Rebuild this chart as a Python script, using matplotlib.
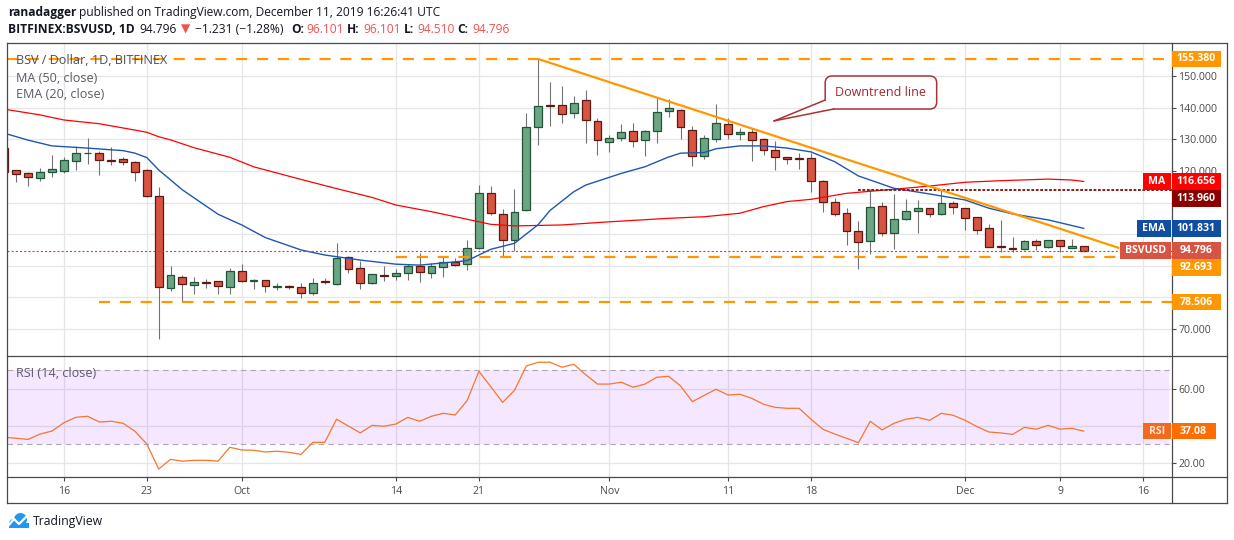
import matplotlib
matplotlib.use('Agg')
import matplotlib.pyplot as plt
from matplotlib.patches import Rectangle, FancyBboxPatch, Polygon, Circle
from matplotlib.lines import Line2D
from matplotlib.transforms import IdentityTransform
import pandas as pd

W, H = 1234, 540
plt.rcParams['font.family'] = ['Open Sans', 'DejaVu Sans']
plt.rcParams['lines.scale_dashes'] = False

# ---- data (daily candles, Sep 11 -> Dec 11 2019) ----
start_date = '2019-09-11'
opens = [127.1, 120.2, 119.2, 117.7, 119.5, 119.9, 123.0, 125.5, 125.6, 123.4,
         123.7, 122.7, 120.2, 112.0, 82.9, 86.3, 83.8, 84.9, 85.1, 83.2,
         88.2, 85.3, 85.4, 83.4, 83.6, 83.2, 81.3, 85.2, 84.1, 92.7,
         89.2, 84.5, 87.0, 86.7, 87.6, 89.8, 87.6, 89.6, 91.2, 90.5,
         95.5, 112.9, 106.3, 98.0, 107.5, 133.8, 140.7, 140.7, 138.2, 142.3,
         135.7, 129.0, 130.3, 132.5, 129.7, 132.5, 138.8, 139.2, 132.8, 124.6,
         130.0, 134.7, 131.6, 132.2, 130.0, 126.5, 124.3, 124.2, 124.0, 116.7,
         110.1, 106.6, 100.9, 97.7, 108.8, 100.3, 104.7, 107.2, 108.2, 106.3,
         109.7, 108.2, 105.3, 101.8, 96.1, 95.5, 95.2, 97.7, 95.8, 98.0,
         95.5, 96.101]
highs = [127.6, 120.4, 119.5, 120.9, 125.0, 124.3, 127.9, 130.4, 126.2, 127.5,
         124.3, 123.0, 120.5, 114.8, 89.9, 87.0, 86.3, 85.7, 85.3, 89.2,
         90.5, 85.8, 85.6, 84.5, 83.8, 84.5, 86.0, 86.0, 97.1, 93.0,
         91.4, 87.5, 89.8, 88.9, 90.5, 93.9, 90.8, 92.7, 92.4, 98.1,
         115.4, 115.1, 107.9, 114.2, 138.2, 155.38, 148.0, 146.7, 143.6, 145.5,
         136.6, 131.2, 134.7, 135.0, 132.8, 143.3, 142.6, 139.5, 134.1, 131.2,
         141.1, 136.6, 133.5, 133.5, 130.3, 129.4, 124.5, 125.6, 125.6, 117.0,
         111.3, 108.2, 104.1, 114.2, 110.1, 112.6, 111.0, 110.7, 108.4, 113.9,
         110.4, 108.4, 105.5, 103.1, 104.4, 99.0, 98.0, 98.4, 98.0, 98.0,
         98.4, 96.101]
lows = [119.3, 116.6, 115.3, 116.9, 118.2, 119.4, 120.3, 122.3, 118.8, 122.0,
        122.0, 116.9, 111.8, 66.9, 81.9, 78.6, 81.0, 82.9, 81.0, 81.0,
        84.8, 82.6, 81.6, 82.2, 82.6, 79.7, 80.7, 84.1, 83.8, 87.6,
        82.6, 84.3, 85.1, 85.4, 85.4, 84.8, 86.0, 86.3, 89.8, 88.6,
        95.3, 106.0, 93.0, 94.6, 107.2, 128.1, 134.1, 135.0, 136.6, 128.7,
        124.9, 125.9, 129.4, 127.5, 124.6, 128.7, 136.9, 130.0, 121.4, 123.7,
        129.0, 130.0, 129.7, 123.0, 124.9, 120.2, 122.1, 120.5, 113.2, 106.9,
        105.6, 96.5, 88.9, 93.6, 99.3, 95.2, 104.4, 100.3, 105.3, 106.1,
        106.3, 101.2, 99.9, 95.8, 94.3, 94.3, 94.9, 94.9, 95.5, 94.3,
        95.5, 94.51]
closes = [119.7, 118.9, 118.0, 119.5, 120.5, 123.3, 125.6, 125.7, 123.3, 123.2,
          122.7, 119.5, 112.0, 83.2, 87.0, 84.1, 84.8, 84.7, 83.5, 88.2,
          85.1, 85.5, 83.5, 83.6, 83.2, 81.3, 84.5, 84.9, 92.4, 88.9,
          84.5, 87.3, 86.7, 87.6, 89.8, 87.9, 89.9, 91.2, 90.1, 95.5,
          112.9, 106.6, 98.0, 106.9, 133.8, 140.4, 140.4, 137.9, 141.4, 136.0,
          129.7, 130.3, 132.2, 129.4, 132.5, 138.5, 139.8, 133.8, 124.6, 130.3,
          135.0, 131.6, 132.2, 129.7, 126.5, 124.3, 123.7, 123.8, 116.9, 110.1,
          106.3, 100.9, 97.4, 108.5, 100.3, 104.7, 107.2, 108.2, 106.3, 109.7,
          108.5, 105.0, 101.2, 96.0, 95.8, 95.2, 97.7, 96.5, 98.0, 96.1,
          96.1, 94.796]

ma_days = [0, 3, 5, 8, 11, 12, 13, 14, 16, 19, 21, 25, 28, 31, 33, 36, 39, 41,
           43, 47, 51, 56, 59, 62, 64, 66, 68, 71, 75, 78, 81, 84, 88, 90, 91]
ma_vals = [139.5, 137.7, 136.1, 134.9, 132.9, 132.2, 130.8, 129.8, 127.3, 124.3,
           121.3, 117.3, 114.4, 111.6, 109.2, 107.1, 104.7, 103.1, 102.6, 102.9,
           103.9, 105.0, 105.5, 106.6, 108.7, 110.3, 111.0, 112.9, 114.2, 115.2,
           116.4, 116.9, 117.4, 117.1, 116.656]
ema_days = [0, 2, 4, 7, 10, 11, 12, 13, 15, 18, 20, 22, 25, 27, 30, 33, 35, 39,
            41, 43, 45, 46, 48, 49, 52, 54, 56, 57, 59, 60, 62, 64, 66, 68, 70,
            72, 75, 78, 81, 83, 85, 88, 91]
ema_vals = [131.9, 129.7, 127.9, 127.2, 126.4, 125.6, 124.2, 120.3, 114.0, 106.3,
            102.9, 98.9, 95.0, 93.4, 91.8, 90.5, 90.2, 91.6, 95.2, 97.1, 103.0,
            107.5, 113.4, 115.5, 119.2, 121.3, 124.4, 125.6, 125.8, 127.0, 127.9,
            127.9, 127.2, 126.0, 122.9, 118.4, 114.5, 112.7, 110.8, 108.2, 106.4,
            104.5, 101.831]
rsi_vals = [33.7, 33.2, 32.6, 35.5, 37.1, 41.6, 44.5, 45.1, 42.0, 42.4,
            41.3, 37.0, 30.1, 16.6, 21.8, 20.8, 21.3, 21.3, 20.8, 28.3,
            26.9, 26.7, 25.8, 26.2, 25.6, 24.5, 31.0, 31.0, 43.5, 39.8,
            36.1, 40.2, 39.7, 40.9, 44.5, 42.4, 45.1, 46.7, 45.8, 53.5,
            69.4, 61.1, 52.6, 59.1, 72.3, 74.3, 74.3, 71.6, 73.2, 67.6,
            62.5, 62.5, 63.5, 60.8, 62.5, 66.2, 66.7, 61.5, 53.0, 56.4,
            59.7, 56.6, 57.0, 54.8, 51.6, 49.9, 49.4, 49.4, 43.5, 38.1,
            35.5, 33.2, 30.8, 42.4, 37.7, 41.3, 43.5, 44.5, 42.9, 46.7,
            45.6, 42.9, 39.5, 36.6, 36.1, 35.3, 39.1, 38.1, 40.2, 38.1,
            38.6, 37.08]

tick_dates = ['2019-09-16', '2019-09-23', '2019-10-01', '2019-10-14', '2019-10-21',
              '2019-11-01', '2019-11-11', '2019-11-18', '2019-12-01', '2019-12-09',
              '2019-12-16']
tick_labels = ['16', '23', 'Oct', '14', '21', 'Nov', '11', '18', 'Dec', '9', '16']
price_ticks = [70, 80, 90, 100, 110, 120, 130, 140, 150]
price_hidden = [80, 90, 100, 110]     # covered by the value tags
rsi_ticks = [20, 40, 60]
rsi_hidden = [40]

resistance = 155.38
support_hi = 92.693
support_lo = 78.506
level_dark = 113.96
trend_days = [45, 94]
trend_vals = [155.38, 95.6]

UP, UP_EDGE = '#6ba583', '#225437'
DN, DN_EDGE = '#d75442', '#5b1a13'
WICK = '#737375'
ORANGE = '#ff9800'
FRAME = '#4a4a4a'
TXT = '#4a4a4a'

fig = plt.figure(figsize=(W / 100, H / 100), dpi=100)
fig.patch.set_facecolor('white')


def fx(x):
    return x / W


def fy(y):
    return 1 - y / H


ax = fig.add_axes([fx(7), fy(355.7), (1171.5 - 7) / W, (355.7 - 43.3) / H])
rax = fig.add_axes([fx(7), fy(476.7), (1171.5 - 7) / W, (476.7 - 355.7) / H])

x0, x1 = 0.21, 98.4
ax.set_xlim(x0, x1)
rax.set_xlim(x0, x1)
ax.set_ylim(61.56, 160.34)
rax.set_ylim(12.43, 77.84)

tick_x = [(pd.Timestamp(d) - pd.Timestamp(start_date)).days for d in tick_dates]

for a in (ax, rax):
    for s in a.spines.values():
        s.set_visible(False)
    a.set_xticks(tick_x)
    a.grid(True, color='#e6e6e6', lw=0.9)
    a.set_axisbelow(True)
    a.yaxis.tick_right()
    a.tick_params(axis='y', length=3, width=0.8, color=FRAME, pad=2,
                  labelsize=7.6, labelcolor=TXT)

ax.set_yticks(price_ticks)
ax.set_yticklabels(['' if v in price_hidden else '%.3f' % v for v in price_ticks])
ax.tick_params(axis='x', length=0, labelbottom=False)
rax.set_yticks(rsi_ticks)
rax.set_yticklabels(['' if v in rsi_hidden else '%.2f' % v for v in rsi_ticks])
rax.set_xticklabels(tick_labels)
rax.tick_params(axis='x', length=3, width=0.8, color=FRAME, pad=3.5,
                labelsize=7.6, labelcolor=TXT)

# ---- candles ----
for i, (o, h, l, c) in enumerate(zip(opens, highs, lows, closes)):
    up = c >= o
    ax.vlines(i, l, h, color=WICK, lw=0.8, zorder=2)
    bottom = min(o, c)
    height = max(abs(c - o), 0.25)
    ax.add_patch(Rectangle((i - 0.33, bottom), 0.66, height,
                           fc=UP if up else DN, ec=UP_EDGE if up else DN_EDGE,
                           lw=0.9, zorder=3))

ax.plot(ma_days, ma_vals, color='#ff0000', lw=0.9, zorder=4)
ax.plot(ema_days, ema_vals, color='#1f56b3', lw=1.0, zorder=4)

# ---- levels ----
dash = (0, (8, 7))
ax.hlines(resistance, x0, x1, colors=ORANGE, lw=1.6, linestyles=[dash], zorder=5)
ax.hlines(support_hi, 33, x1, colors=ORANGE, lw=1.6, linestyles=[dash], zorder=5)
ax.hlines(support_lo, 8, x1, colors=ORANGE, lw=1.6, linestyles=[dash], zorder=5)
ax.hlines(level_dark, 72, x1, colors='#8b1a1a', lw=1.4,
          linestyles=[(0, (2, 1.2))], zorder=5)
ax.axhline(closes[-1], color='#e53935', lw=0.8, ls=(0, (1.5, 1.5)), zorder=5)
ax.plot(trend_days, trend_vals, color=ORANGE, lw=1.6, zorder=6,
        solid_capstyle='butt')

# ---- RSI ----
band_end = (1169 - 7) / (1171.5 - 7)
rax.axhspan(30, 70, xmin=0, xmax=band_end, color='#9915ff', alpha=0.1, lw=0,
            zorder=1)
rax.hlines([30, 70], x0, x0 + (x1 - x0) * band_end, colors='#b0a6b8', lw=0.8,
           linestyles=[(0, (4, 3))], zorder=2)
rax.plot(range(len(rsi_vals)), rsi_vals, color='#f7762a', lw=0.9, zorder=4)

# ---- frame lines ----
frame = [((7, 43.3), (1227.3, 43.3)), ((7, 43.3), (7, 503.3)),
         ((1227.3, 43.3), (1227.3, 503.3)), ((7, 503.3), (1227.3, 503.3)),
         ((1171.5, 43.3), (1171.5, 503.3)), ((7, 355.7), (1227.3, 355.7)),
         ((7, 476.7), (1227.3, 476.7))]
for (xa, ya), (xb, yb) in frame:
    fig.add_artist(Line2D([fx(xa), fx(xb)], [fy(ya), fy(yb)], color=FRAME,
                          lw=0.9, transform=fig.transFigure, zorder=9))


# ---- axis tags ----
def tag(axis, value, text, color, xa, xb, txt='white', shift=0):
    yd = axis.transData.transform((0, value))[1] - shift
    hgt = 16.7
    fig.add_artist(Rectangle((xa, yd - hgt / 2), xb - xa, hgt,
                             transform=IdentityTransform(), fc=color, ec='none',
                             zorder=10))
    fig.text(fx((xa + xb) / 2), yd / H, text, ha='center', va='center',
             color=txt, fontsize=7.6, fontweight='bold', zorder=11)


tag(ax, resistance, '%.3f' % resistance, ORANGE, 1171.5, 1220.5)
tag(ax, ma_vals[-1], 'MA', '#ff0000', 1143, 1171)
tag(ax, ma_vals[-1], '%.3f' % ma_vals[-1], '#ff0000', 1171.5, 1220.5)
tag(ax, level_dark, '%.3f' % level_dark, '#8b0000', 1171.5, 1220.5, shift=8.5)
tag(ax, ema_vals[-1], 'EMA', '#0f4ea3', 1137, 1171)
tag(ax, ema_vals[-1], '%.3f' % ema_vals[-1], '#0f4ea3', 1171.5, 1220.5)
tag(ax, closes[-1], 'BSVUSD', DN, 1120, 1171)
tag(ax, closes[-1], '%.3f' % closes[-1], DN, 1171.5, 1220.5)
tag(ax, support_hi, '%.3f' % support_hi, ORANGE, 1171.5, 1220.5, shift=10)
tag(ax, support_lo, '%.3f' % support_lo, ORANGE, 1171.5, 1220.5)
tag(rax, rsi_vals[-1], 'RSI', '#f26a1b', 1143, 1171, txt='#ffe2cf')
tag(rax, rsi_vals[-1], '%.2f' % rsi_vals[-1], '#ff6d00', 1171.5, 1215.5)

# ---- callout ----
td = ax.transData.transform
bx0, by0 = td((69.2, 139.56))
bx1, by1 = td((78.6, 150.0))
tip = td((64.9, 135.8))
ta = td((69.2, 142.4))
tb = td((69.9, 139.56))
ax.add_patch(FancyBboxPatch((bx0, by0), bx1 - bx0, by1 - by0,
                            boxstyle='round,pad=0,rounding_size=7',
                            transform=IdentityTransform(), fc='white',
                            ec='#a83236', lw=1.1, zorder=8, clip_on=False))
ax.add_patch(Polygon([ta, tip, tb], closed=True, transform=IdentityTransform(),
                     fc='white', ec='none', zorder=8.5, clip_on=False))
for pt in (ta, tb):
    ax.add_line(Line2D([pt[0], tip[0]], [pt[1], tip[1]], color='#a83236',
                       lw=1.1, transform=IdentityTransform(), zorder=8.6))

# ---- texts ----
renderer = fig.canvas.get_renderer()


def fit_size(s, width, weight='normal', base=9.0):
    t = fig.text(0, 0, s, fontsize=base, fontweight=weight)
    w = t.get_window_extent(renderer).width
    t.remove()
    return base * width / w


def put(x, y, s, size, color='#131722', weight='normal'):
    return fig.text(fx(x), fy(y), s, fontsize=size, color=color,
                    fontweight=weight, ha='left', va='center', zorder=12)


hs = fit_size('published on TradingView.com, December 11, 2019 16:26:41 UTC', 366)
put(8, 12.7, 'ranadagger', hs, weight='bold')
put(79, 12.7, 'published on TradingView.com, December 11, 2019 16:26:41 UTC', hs)
RED = '#ef5350'
line2 = [(8, 'BITFINEX:BSVUSD, 1D', '#131722', 'bold'),
         (139, '94.796', '#131722', 'normal'),
         (181, '\u25bc', RED, 'normal'),
         (195, '\u22121.231 (\u22121.28%)', '#131722', 'normal'),
         (291, 'O:', '#131722', 'bold'), (306, '96.101', RED, 'normal'),
         (347, 'H:', '#131722', 'bold'), (363, '96.101', RED, 'normal'),
         (404, 'L:', '#131722', 'bold'), (417, '94.510', RED, 'normal'),
         (457, 'C:', '#131722', 'bold'), (472, '94.796', RED, 'normal')]
for x, s, c, wgt in line2:
    put(x, 29.3, s, hs, color=c, weight=wgt)

ls = fit_size('BSV / Dollar, 1D, BITFINEX', 151.6)
put(15.5, 61, 'BSV / Dollar, 1D, BITFINEX', ls, color='#4c4f57')
put(15.5, 78.3, 'MA (50, close)', ls, color='#5a5d66')
put(15.5, 94.5, 'EMA (20, close)', ls, color='#5a5d66')
put(15.5, 373.3, 'RSI (14, close)', ls, color='#5a5d66')

cs = fit_size('Downtrend line', 90.7)
fig.text(((bx0 + bx1) / 2) / W, ((by0 + by1) / 2) / H, 'Downtrend line',
         fontsize=cs, color='#a0282d', ha='center', va='center', zorder=12)

# ---- TradingView logo ----
for cx, cy, r in [(13.5, 523.5, 4.5), (20.5, 519.5, 6.5)]:
    fig.add_artist(Circle((cx, H - cy), r, transform=IdentityTransform(),
                          fc='#2196f3', ec='none', zorder=12))
fig.add_artist(Rectangle((9, H - 528), 20, 5, transform=IdentityTransform(),
                         fc='#2196f3', ec='none', zorder=12))
fig.add_artist(Line2D([8, 14, 19, 27], [H - 526, H - 519, H - 524, H - 516],
                      color='white', lw=1.6, transform=IdentityTransform(),
                      zorder=13))
tvs = fit_size('TradingView', 71)
put(33, 521.7, 'TradingView', tvs, color='#131722')

fig.savefig('out.png', dpi=100, facecolor='white')
